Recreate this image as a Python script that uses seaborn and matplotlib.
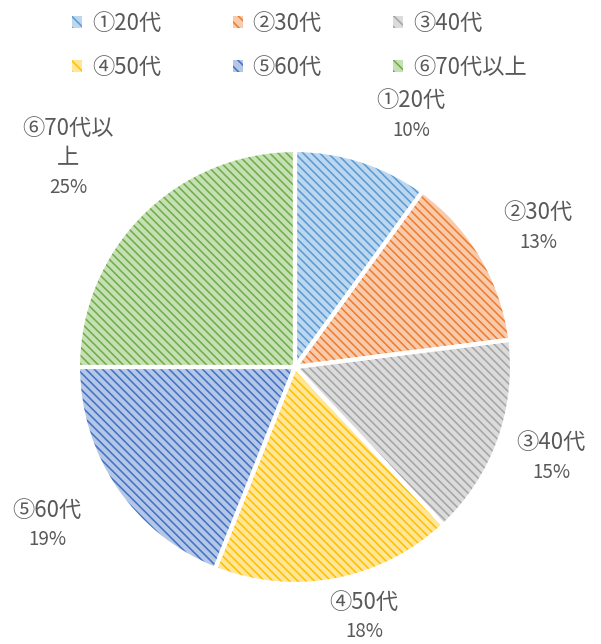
import numpy as np
import matplotlib
matplotlib.use("Agg")
import matplotlib.pyplot as plt
import seaborn as sns
from matplotlib.patches import Patch

sns.set_theme(style="white")
plt.rcParams['font.family'] = ['Noto Sans CJK JP', 'DejaVu Sans']
plt.rcParams['hatch.linewidth'] = 1.15

# data
labels = ["①20代", "②30代", "③40代", "④50代", "⑤60代", "⑥70代以上"]
label_text = ["①20代", "②30代", "③40代", "④50代", "⑤60代", "⑥70代以\n上"]
values = [10, 13, 15, 18, 19, 25]
light = ["#BDD7EE", "#F8CBAD", "#DBDBDB", "#FFE699", "#B4C7E7", "#C5E0B4"]
dark = ["#5B9BD5", "#ED7D31", "#A5A5A5", "#FFC000", "#4472C4", "#70AD47"]
# label centre positions (pie radius units)
lab_x = [0.535, 1.12, 1.18, 0.318, -1.143, -1.046]
lab_y = [1.23, 0.71, -0.346, -1.083, -0.659, 1.032]

W, H = 601, 644
fig = plt.figure(figsize=(W / 100, H / 100), dpi=100)
cx, cy, r = 295, 367, 217
ax = fig.add_axes([(cx - r) / W, (H - cy - r) / H, 2 * r / W, 2 * r / H])

hatch = "\\" * 4
wedges, _ = ax.pie(values, colors=light, startangle=90, counterclock=False,
                   wedgeprops=dict(linewidth=0))
for w, d in zip(wedges, dark):
    w.set_edgecolor(d)
    w.set_hatch(hatch)
    w.set_linewidth(0)
ax.pie(values, colors=["none"] * len(values), startangle=90, counterclock=False,
       wedgeprops=dict(linewidth=3, edgecolor="white", fill=False))
ax.set_xlim(-1, 1)
ax.set_ylim(-1, 1)
ax.axis("off")

txtc = "#595959"
for t, v, x, y in zip(label_text, values, lab_x, lab_y):
    n = t.count("\n")
    ax.text(x, y, t, ha="center", va="center", fontsize=16, color=txtc,
            linespacing=1.3)
    ax.text(x, y - 0.138 - 0.069 * n, f"{v}%", ha="center", va="center",
            fontsize=13.5, color=txtc)

handles = [Patch(facecolor=l, edgecolor=d, hatch="\\" * 3, linewidth=0)
           for l, d in zip(light, dark)]
order = [0, 3, 1, 4, 2, 5]
fig.legend([handles[i] for i in order], [labels[i] for i in order],
           loc="upper left", ncol=3, frameon=False,
           bbox_to_anchor=(0.087, 1.012), fontsize=16, labelcolor=txtc,
           handlelength=0.45, handleheight=0.45, handletextpad=0.45,
           columnspacing=3.2, labelspacing=0.95)

fig.savefig("out.png", dpi=100)
